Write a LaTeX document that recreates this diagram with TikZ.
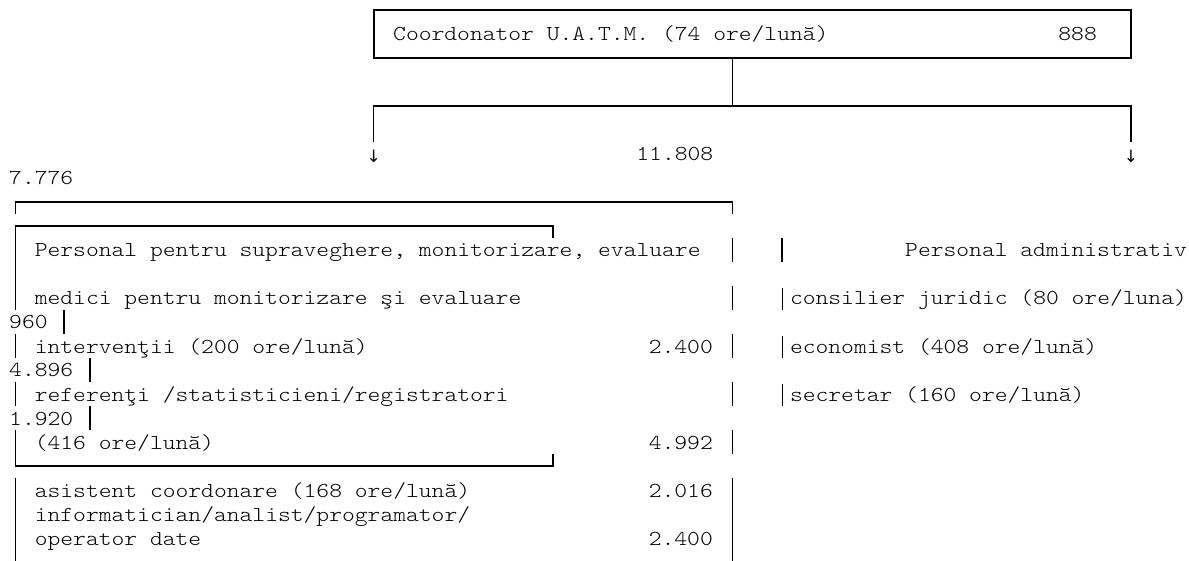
\documentclass[tikz,border=0pt]{standalone}
\usepackage{fontspec}
\setmonofont[Extension=.otf, FakeStretch=1.145]{lmmonolt10-regular}
\newfontfamily\arrowfont{DejaVu Sans}
\tikzset{
  txt/.style={font=\ttfamily\fontsize{21.3}{24}\selectfont, inner sep=0pt},
  arrowtxt/.style={font=\arrowfont\fontsize{17}{20}\selectfont, inner sep=0pt},
  boxline/.style={line width=1.3pt},
  pipeline/.style={line width=0.9pt}
}

\begin{document}
\begin{tikzpicture}[x=1pt, y=-1pt]
\useasboundingbox (0,0) rectangle (1189,561);

% Coordinator box
\node[draw, boxline, minimum width=757pt, minimum height=48pt, inner sep=0pt] (coordbox) at (752.4,34) {};
\node[txt, anchor=base west] (coordtxt) at (393,41) {Coordonator U.A.T.M. (74 ore/lună)};
\node[txt, anchor=base east] (coordval) at (1097,41) {888};

% Fork to both branches
\coordinate (fork) at (732.2,106);
\node[arrowtxt, anchor=base] (arrL) at (373.8,163) {↓};
\node[arrowtxt, anchor=base] (arrR) at (1131,163) {↓};
\draw[boxline] (coordbox.south -| fork) -- (fork);
\draw[boxline] (arrL |- fork) ++(0,36) -- ++(0,-36) -- (arrR |- fork) -- ++(0,36);

% Totals
\node[txt, anchor=base west] (sumtot) at (636.2,161) {11.808};
\node[txt, anchor=base west] (sumadm) at (9,185) {7.776};

% Outer bracket
\draw[boxline] (15.4,214) -- (15.4,202) -- (732.2,202) -- (732.2,214);

% Inner box (supraveghere)
\draw[boxline] (15.4,310) -- (15.4,226) -- (553,226) -- (553,238);
\draw[boxline] (15.4,334) -- (15.4,358);
\draw[boxline] (15.4,382) -- (15.4,406);
\draw[boxline] (15.4,430) -- (15.4,466) -- (553,466) -- (553,454);

% Right edge of left column
\draw[boxline] (732.2,238) -- (732.2,262);
\draw[boxline] (732.2,286) -- (732.2,310);
\draw[boxline] (732.2,334) -- (732.2,358);
\draw[boxline] (732.2,382) -- (732.2,406);
\draw[boxline] (732.2,430) -- (732.2,454);

% Wrapped values
\draw[boxline] (64,310) -- (64,334);
\draw[boxline] (90,358) -- (90,382);
\draw[boxline] (90,406) -- (90,430);

% Left column rows
\node[txt, anchor=base west] (supr) at (34.6,257) {Personal pentru supraveghere, monitorizare, evaluare};
\node[txt, anchor=base west] (medici) at (34.6,305) {medici pentru monitorizare şi evaluare};
\node[txt, anchor=base west] (val960) at (9,329) {960};
\node[txt, anchor=base west] (interv) at (34.6,353) {intervenţii (200 ore/lună)};
\node[txt, anchor=base east] (valinterv) at (713,353) {2.400};
\node[txt, anchor=base west] (val4896) at (9,377) {4.896};
\node[txt, anchor=base west] (refer) at (34.6,401) {referenţi /statisticieni/registratori};
\node[txt, anchor=base west] (val1920) at (9,425) {1.920};
\node[txt, anchor=base west] (referore) at (34.6,449) {(416 ore/lună)};
\node[txt, anchor=base east] (valrefer) at (713,449) {4.992};

% Lower block
\draw[boxline] (15.4,478) -- (15.4,561);
\draw[boxline] (732.2,478) -- (732.2,561);
\node[txt, anchor=base west] (asist) at (34.6,497) {asistent coordonare (168 ore/lună)};
\node[txt, anchor=base east] (valasist) at (713,497) {2.016};
\node[txt, anchor=base west] (inform) at (34.6,521) {informatician/analist/programator/};
\node[txt, anchor=base west] (operat) at (34.6,545) {operator date};
\node[txt, anchor=base east] (valoperat) at (713,545) {2.400};

% Right column (administrativ)
\draw[boxline] (782,238) -- (782,262);
\draw[pipeline] (782,288) -- (782,310);
\draw[pipeline] (782,336) -- (782,358);
\draw[pipeline] (782,384) -- (782,406);
\node[txt, anchor=base west] (adm) at (905,257) {Personal administrativ};
\node[txt, anchor=base west] (consil) at (789.8,305) {consilier juridic (80 ore/luna)};
\node[txt, anchor=base west] (econ) at (789.8,353) {economist (408 ore/lună)};
\node[txt, anchor=base west] (secr) at (789.8,401) {secretar (160 ore/lună)};

\end{tikzpicture}
\end{document}
